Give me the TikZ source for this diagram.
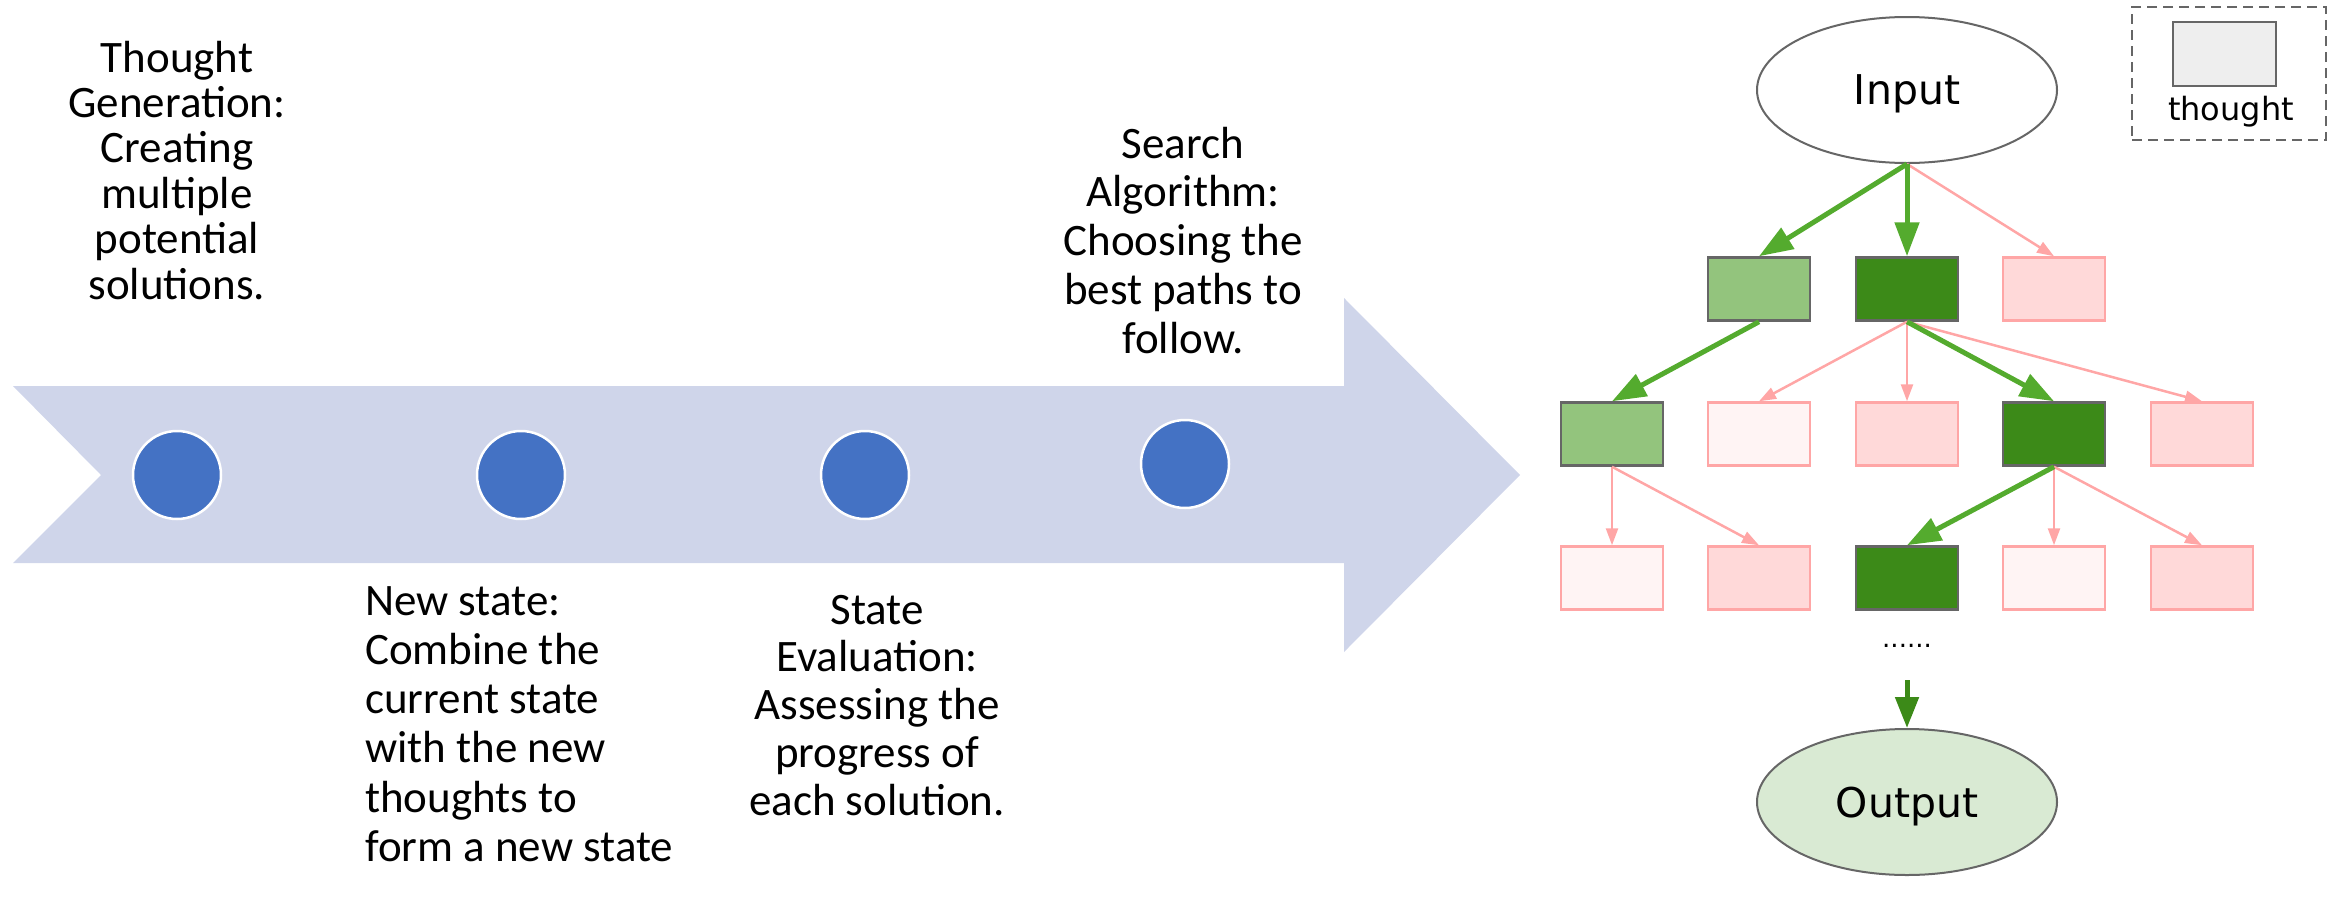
\documentclass[tikz,border=0pt]{standalone}
\usepackage{fontspec}
\setmainfont{Carlito}
\newfontfamily\gvfont{DejaVu Sans}
\usetikzlibrary{arrows.meta,shapes.geometric}
\definecolor{bandcol}{HTML}{CFD5EA}
\definecolor{dotcol}{HTML}{4472C4}
\definecolor{lgreen}{HTML}{93C47D}
\definecolor{dgreen}{HTML}{3C8A18}
\definecolor{pinkfill}{HTML}{FFD9D9}
\definecolor{palefill}{HTML}{FFF4F4}
\definecolor{pinkline}{HTML}{FFA6A6}
\definecolor{greenline}{HTML}{54AB2E}
\definecolor{greyline}{HTML}{666666}
\definecolor{outfill}{HTML}{D9EAD3}
\definecolor{legfill}{HTML}{EEEEEE}
\begin{document}
\begin{tikzpicture}[x=1pt,y=-1pt,
  stage/.style={circle,fill=dotcol,draw=white,line width=2.5pt,minimum size=88pt,inner sep=0pt},
  label/.style={inner sep=0pt,anchor=base},
  tbox/.style={rectangle,minimum width=102pt,minimum height=63pt,inner sep=0pt,line width=2.5pt},
  gbox/.style={tbox,fill=lgreen,draw=greyline},
  dbox/.style={tbox,fill=dgreen,draw=greyline},
  pbox/.style={tbox,fill=pinkfill,draw=pinkline},
  wbox/.style={tbox,fill=palefill,draw=pinkline},
  oval/.style={ellipse,minimum width=300pt,minimum height=146pt,inner sep=0pt,text depth=0pt,line width=2pt,draw=greyline,font=\gvfont\fontsize{41}{41}\selectfont},
  good/.style={draw=greenline,line width=5pt,-{Triangle[length=34pt,width=24pt]}},
  weak/.style={draw=pinkline,line width=2.5pt,-{Triangle[length=17pt,width=12pt]}},
  final/.style={draw=dgreen,line width=5pt,-{Triangle[length=31pt,width=23pt]}}
]
\useasboundingbox (0,0) rectangle (2340,908);
% timeline arrow
\fill[bandcol] (13,386) -- (1344,386) -- (1344,298) -- (1520,475) -- (1344,652) -- (1344,563) -- (13,563) -- (101,475) -- cycle;
\node[stage] (s1) at (177,475) {};
\node[stage] (s2) at (521,475) {};
\node[stage] (s3) at (865,475) {};
\node[stage] (s4) at (1185,464) {};
% texts
\node[label,font=\fontsize{45}{45.4}\selectfont] (t1) at (177,72) {\begin{tabular}[t]{@{}c@{}}Thought\\Generation:\\Creating\\multiple\\potential\\solutions.\end{tabular}};
\node[label,anchor=base west,font=\fontsize{45}{49.3}\selectfont] (t2) at (365,615) {\begin{tabular}[t]{@{}l@{}}New state:\\Combine the\\current state\\with the new\\thoughts to\\form a new state\end{tabular}};
\node[label,font=\fontsize{45}{47.8}\selectfont] (t3) at (877,624) {\begin{tabular}[t]{@{}c@{}}State\\Evaluation:\\Assessing the\\progress of\\each solution.\end{tabular}};
\node[label,font=\fontsize{45}{48.9}\selectfont] (t4) at (1183,158) {\begin{tabular}[t]{@{}c@{}}Search\\Algorithm:\\Choosing the\\best paths to\\follow.\end{tabular}};
% tree
\node[oval,fill=white] (in) at (1907,90) {Input};
\node[gbox] (a1) at (1759,289) {};
\node[dbox] (a2) at (1907,289) {};
\node[pbox] (a3) at (2054,289) {};
\node[gbox] (b1) at (1612,434) {};
\node[wbox] (b2) at (1759,434) {};
\node[pbox] (b3) at (1907,434) {};
\node[dbox] (b4) at (2054,434) {};
\node[pbox] (b5) at (2202,434) {};
\node[wbox] (c1) at (1612,578) {};
\node[pbox] (c2) at (1759,578) {};
\node[dbox] (c3) at (1907,578) {};
\node[wbox] (c4) at (2054,578) {};
\node[pbox] (c5) at (2202,578) {};
\node[inner sep=0pt,font=\gvfont\fontsize{26}{26}\selectfont] (dots) at (1907,646) {......};
\coordinate (fs) at (1907,680);
\node[oval,fill=outfill] (out) at (1907,802) {Output};
\draw[weak] (in.south) -- (a3.north);
\draw[good] (in.south) -- (a1.north);
\draw[good] (in.south) -- (a2.north);
\draw[good] (a1.south) -- (b1.north);
\draw[weak] (a2.south) -- (b2.north);
\draw[weak] (a2.south) -- (b3.north);
\draw[weak] (a2.south) -- (b5.north);
\draw[good] (a2.south) -- (b4.north);
\draw[weak] (b1.south) -- (c1.north);
\draw[weak] (b1.south) -- (c2.north);
\draw[weak] (b4.south) -- (c4.north);
\draw[weak] (b4.south) -- (c5.north);
\draw[good] (b4.south) -- (c3.north);
\draw[final] (fs) -- (out.north);
% legend
\node[draw=greyline,line width=2pt,dash pattern=on 10pt off 6pt,minimum width=194pt,minimum height=133pt,inner sep=0pt] (legend) at (2229,73.5) {};
\node[tbox,fill=legfill,draw=greyline,minimum width=103pt,minimum height=64pt] (lgbox) at (2224.5,54) {};
\node[inner sep=0pt,anchor=base,font=\gvfont\fontsize{32}{32}\selectfont] (lgtext) at (2231,120) {thought};
\end{tikzpicture}
\end{document}
